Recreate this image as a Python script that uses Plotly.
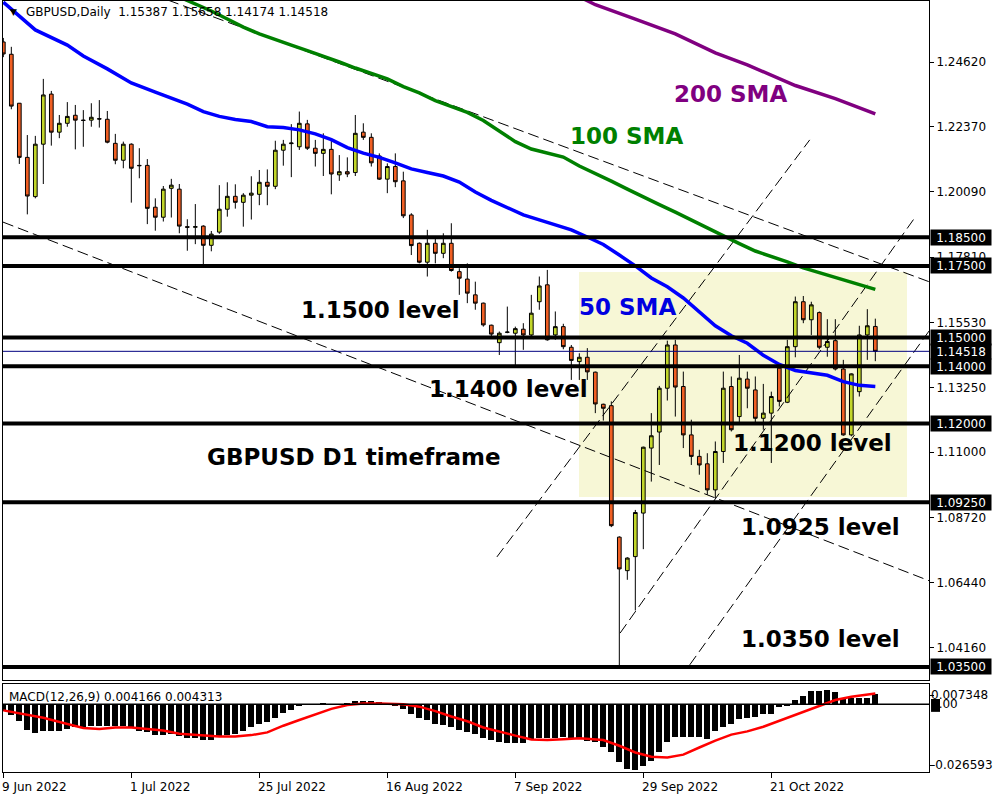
import plotly.graph_objects as go

# ---------------- data ----------------
bar_index = list(range(110))
opens = [1.2532,1.2489,1.2318,1.2129,1.1992,1.2175,1.2350,1.2217,1.2248,1.2276,
         1.2259,1.2259,1.2264,1.2262,1.2178,1.2119,1.2175,1.2101,1.2101,1.1955,
         1.1920,1.2021,1.2018,1.1887,1.1885,1.1889,1.1822,1.1868,1.1948,1.1993,
         1.1972,1.1997,1.2000,1.2042,1.2028,1.2154,1.2177,1.2166,1.2246,1.2161,
         1.2143,1.2157,1.2068,1.2079,1.2076,1.2217,1.2199,1.2134,1.2053,1.2097,
         1.2047,1.1928,1.1829,1.1763,1.1829,1.1794,1.1829,1.1730,1.1704,1.1649,
         1.1620,1.1543,1.1482,1.1518,1.1515,1.1529,1.1509,1.1625,1.1684,1.1509,
         1.1538,1.1466,1.1416,1.1431,1.1379,1.1267,1.1262,1.0803,1.0686,1.0735,
         1.0887,1.1114,1.1170,1.1323,1.1474,1.1329,1.1160,1.1085,1.1059,1.0968,
         1.1102,1.1329,1.1224,1.1355,1.1317,1.1218,1.1236,1.1393,1.1274,1.1468,
         1.1625,1.1562,1.1587,1.1466,1.1489,1.1390,1.1160,1.1311,1.1509,1.15387]
highs = [1.2546,1.2515,1.2319,1.2207,1.2204,1.2403,1.2361,1.2277,1.2322,1.2312,
         1.2294,1.2318,1.2329,1.2291,1.2211,1.2184,1.2178,1.2161,1.2123,1.1986,
         1.2029,1.2054,1.2036,1.1913,1.1966,1.1892,1.1872,1.2032,1.2042,1.2035,
         1.2004,1.2063,1.2085,1.2087,1.2187,1.2190,1.2245,1.2289,1.2260,1.2190,
         1.2213,1.2190,1.2137,1.2129,1.2277,1.2248,1.2213,1.2143,1.2108,1.2143,
         1.2079,1.1934,1.1832,1.1876,1.1852,1.1864,1.1899,1.1742,1.1759,1.1695,
         1.1622,1.1545,1.1521,1.1608,1.1538,1.1550,1.1649,1.1713,1.1736,1.1591,
         1.1548,1.1474,1.1445,1.1463,1.1381,1.1269,1.1277,1.0806,1.0733,1.0898,
         1.1119,1.1236,1.1331,1.1489,1.1492,1.1381,1.1213,1.1108,1.1096,1.1137,
         1.1381,1.1364,1.1439,1.1381,1.1364,1.1338,1.1311,1.1410,1.1492,1.1643,
         1.1645,1.1625,1.1591,1.1564,1.1564,1.1422,1.1375,1.1541,1.1599,1.15658]
lows = [1.2479,1.2297,1.2106,1.1930,1.1986,1.2036,1.2170,1.2196,1.2236,1.2157,
        1.2166,1.2236,1.2233,1.2178,1.2105,1.2091,1.1971,1.2056,1.1896,1.1873,
        1.1905,1.1919,1.1864,1.1803,1.1826,1.1756,1.1801,1.1862,1.1922,1.1950,
        1.1887,1.1912,1.1962,1.1962,1.2018,1.2100,1.2060,1.2155,1.2155,1.2097,
        1.2064,1.2000,1.2047,1.2060,1.2064,1.2190,1.2097,1.2050,1.2004,1.2025,
        1.1917,1.1788,1.1759,1.1713,1.1759,1.1777,1.1730,1.1649,1.1620,1.1597,
        1.1538,1.1503,1.1439,1.1515,1.1399,1.1457,1.1503,1.1597,1.1489,1.1492,
        1.1459,1.1352,1.1352,1.1352,1.1236,1.1210,1.0838,1.0350,1.0654,1.0547,
        1.0761,1.0997,1.1055,1.1280,1.1224,1.1114,1.1055,1.1021,1.0951,1.0939,
        1.1062,1.1172,1.1201,1.1253,1.1201,1.1178,1.1062,1.1259,1.1271,1.1431,
        1.1550,1.1509,1.1459,1.1433,1.1385,1.1157,1.1155,1.1294,1.1422,1.14174]
closes = [1.2490,1.2308,1.2129,1.1994,1.2175,1.2347,1.2217,1.2248,1.2272,1.2259,
          1.2258,1.2269,1.2263,1.2182,1.2119,1.2175,1.2091,1.2100,1.1951,1.1920,
          1.2018,1.2032,1.1889,1.1885,1.1887,1.1822,1.1861,1.1948,1.1993,1.1972,
          1.1997,1.2004,1.2042,1.2028,1.2154,1.2175,1.2179,1.2248,1.2161,1.2143,
          1.2157,1.2071,1.2079,1.2071,1.2213,1.2199,1.2110,1.2053,1.2097,1.2044,
          1.1925,1.1821,1.1763,1.1829,1.1794,1.1829,1.1734,1.1707,1.1655,1.1620,
          1.1544,1.1512,1.1515,1.1519,1.1531,1.1509,1.1585,1.1680,1.1492,1.1538,
          1.1468,1.1420,1.1431,1.1380,1.1268,1.1253,1.0843,1.0692,1.0730,1.0889,
          1.1117,1.1157,1.1323,1.1474,1.1327,1.1160,1.1085,1.1055,1.0968,1.1102,
          1.1323,1.1178,1.1358,1.1323,1.1218,1.1236,1.1294,1.1277,1.1468,1.1625,
          1.1562,1.1614,1.1466,1.1486,1.1390,1.1160,1.1373,1.1509,1.1541,1.14518]

sma50_x = [0,4,8,10,13,16,19,21,23,25,27,29,31,33,35,37,39,41,43,45,47,49,51,53,55,
           57,59,61,63,65,67,69,71,73,75,77,79,81,83,85,87,89,91,93,95,97,99,101,103,
           105,107,109]
sma50 = [1.2671,1.2574,1.2521,1.2483,1.2438,1.2389,1.2357,1.2336,1.2315,1.2289,1.2272,
         1.2261,1.2254,1.2236,1.2233,1.2225,1.2211,1.2191,1.2163,1.2144,1.2129,1.2110,
         1.2089,1.2076,1.2064,1.2043,1.2008,1.1979,1.1954,1.1928,1.1911,1.1893,1.1876,
         1.1851,1.1825,1.1788,1.1750,1.1708,1.1677,1.1638,1.1589,1.1541,1.1506,1.1480,
         1.1438,1.1406,1.1385,1.1377,1.1368,1.1346,1.1333,1.1329]
sma100_x = [22,24,26,28,30,32,34,36,38,40,42,44,46,48,50,52,54,56,58,60,62,64,66,68,70,
            72,74,76,78,80,82,84,86,88,90,92,94,96,98,100,102,104,106,108,109]
sma100 = [1.2689,1.2665,1.2640,1.2612,1.2584,1.2560,1.2539,1.2521,1.2502,1.2483,1.2462,
          1.2441,1.2422,1.2403,1.2376,1.2354,1.2327,1.2305,1.2286,1.2258,1.2221,1.2184,
          1.2158,1.2143,1.2130,1.2099,1.2074,1.2046,1.2018,1.1990,1.1964,1.1938,1.1910,
          1.1882,1.1854,1.1828,1.1802,1.1784,1.1764,1.1743,1.1727,1.1710,1.1692,1.1676,
          1.1668]
sma200_x = [72,74,79,84,89,93,99,104,109]
sma200 = [1.2690,1.2662,1.2612,1.2560,1.2494,1.2452,1.2380,1.2334,1.2281]

macd_hist = [-0.0029,-0.0044,-0.0069,-0.0103,-0.0115,-0.0107,-0.0107,-0.0107,-0.0100,-0.0094,
             -0.0094,-0.0090,-0.0090,-0.0087,-0.0087,-0.0090,-0.0094,-0.0107,-0.0114,-0.0125,
             -0.0125,-0.0120,-0.0127,-0.0137,-0.0137,-0.0145,-0.0145,-0.0134,-0.0125,-0.0120,
             -0.0107,-0.0091,-0.0080,-0.0073,-0.0056,-0.0037,-0.0024,-0.0007,-0.0005,-0.0003,
             0.0006,0.0002,0.0001,0.0004,0.0011,0.0012,0.0011,0.0009,0.0006,-0.0007,
             -0.0019,-0.0040,-0.0056,-0.0064,-0.0080,-0.0083,-0.0091,-0.0104,-0.0114,-0.0121,
             -0.0137,-0.0145,-0.0154,-0.0157,-0.0157,-0.0157,-0.0141,-0.0137,-0.0137,-0.0137,
             -0.0134,-0.0137,-0.0141,-0.0147,-0.0154,-0.0175,-0.0195,-0.0235,-0.0262,-0.0266,
             -0.0248,-0.0228,-0.0195,-0.0154,-0.0134,-0.0131,-0.0131,-0.0134,-0.0141,-0.0110,
             -0.0094,-0.0080,-0.0060,-0.0056,-0.0051,-0.0040,-0.0040,-0.0013,-0.0009,0.0018,
             0.0034,0.0055,0.0055,0.0059,0.0051,0.0025,0.0025,0.0025,0.0025,0.004166]
signal_x = [0,2,5,8,10,12,14,16,18,20,22,25,27,29,31,33,35,37,39,41,43,45,47,50,52,54,56,
            58,60,62,64,66,68,70,72,75,77,79,81,83,85,87,89,91,93,95,97,100,102,104,106,108,109]
signal = [-0.0025,-0.0037,-0.0055,-0.0080,-0.0096,-0.0100,-0.0094,-0.0094,-0.0100,-0.0106,
          -0.0119,-0.0128,-0.0131,-0.0131,-0.0125,-0.0114,-0.0087,-0.0064,-0.0040,-0.0019,
          -0.0003,0.0003,0.0003,0.0000,-0.0010,-0.0028,-0.0050,-0.0069,-0.0094,-0.0112,
          -0.0127,-0.0143,-0.0145,-0.0142,-0.0138,-0.0145,-0.0168,-0.0195,-0.0212,-0.0215,
          -0.0204,-0.0175,-0.0147,-0.0123,-0.0110,-0.0091,-0.0067,-0.0033,-0.0006,0.0017,
          0.0030,0.0038,0.004313]

# trend lines: (x0, y0, x1, y1) in bar index / price
trend_lines = [
    (20.6, 1.2678, 115.8, 1.1694),
    (-0.04, 1.1903, 115.8, 1.0650),
    (61.7, 1.0734, 100.8, 1.2190),
    (77.1, 1.0468, 114.0, 1.1921),
    (85.8, 1.0357, 115.8, 1.1526),
]
zone = (71.96, 112.96, 1.0943, 1.1729)
levels = [1.185, 1.175, 1.15, 1.14, 1.12, 1.0925, 1.035]
last_price = 1.14518
price_ticks = [1.2462, 1.2237, 1.2009, 1.1781, 1.1553, 1.1325, 1.1100, 1.0872, 1.0644, 1.0416]
date_ticks = [0, 16, 32, 48, 64, 80, 96]
date_labels = ["9 Jun 2022", "1 Jul 2022", "25 Jul 2022", "16 Aug 2022",
               "7 Sep 2022", "29 Sep 2022", "21 Oct 2022"]
level_texts = [
    ("1.1500 level", 36.9, 1.1596),
    ("1.1400 level", 53.0, 1.1320),
    ("GBPUSD D1 timeframe", 25.2, 1.1083),
    ("1.1200 level", 90.9, 1.1130),
    ("1.0925 level", 92.0, 1.0840),
    ("1.0350 level", 92.0, 1.0447),
]
sma_texts = [
    ("50 SMA", 71.7, 1.1608, "#0000E0"),
    ("100 SMA", 70.6, 1.2202, "#008000"),
    ("200 SMA", 83.6, 1.2350, "#800080"),
]
header = "GBPUSD,Daily  1.15387 1.15658 1.14174 1.14518"
macd_header = "MACD(12,26,9) 0.004166 0.004313"

BULL = "#C2D62A"
BEAR = "#F05F23"
FONT = "DejaVu Sans"
X_RANGE = [-0.04, 115.71]

# ---------------- figure ----------------
fig = go.Figure()

for (x0, y0, x1, y1) in trend_lines:
    fig.add_trace(go.Scatter(x=[x0, x1], y=[y0, y1], mode="lines",
                             line=dict(color="black", width=1, dash="11px,5px"),
                             hoverinfo="skip", showlegend=False, xaxis="x", yaxis="y"))

fig.add_trace(go.Candlestick(
    x=bar_index, open=opens, high=highs, low=lows, close=closes,
    increasing=dict(fillcolor=BULL, line=dict(color="black", width=1)),
    decreasing=dict(fillcolor=BEAR, line=dict(color="black", width=1)),
    whiskerwidth=0, showlegend=False, hoverinfo="skip", xaxis="x", yaxis="y"))

for xs, ys, col in [(sma50_x, sma50, "#0000FF"), (sma100_x, sma100, "#008000"),
                    (sma200_x, sma200, "#800080")]:
    fig.add_trace(go.Scatter(x=xs, y=ys, mode="lines", line=dict(color=col, width=3.5),
                             hoverinfo="skip", showlegend=False, xaxis="x", yaxis="y"))

fig.add_trace(go.Bar(x=bar_index, y=macd_hist, width=0.75, marker=dict(color="black", line=dict(width=0)),
                     showlegend=False, hoverinfo="skip", xaxis="x2", yaxis="y2"))
fig.add_trace(go.Scatter(x=signal_x, y=signal, mode="lines", line=dict(color="#FF0000", width=2.5),
                         showlegend=False, hoverinfo="skip", xaxis="x2", yaxis="y2"))

shapes = [dict(type="rect", xref="x", yref="y", x0=zone[0], x1=zone[1], y0=zone[2], y1=zone[3],
               fillcolor="#F7F7D6", line=dict(width=0), layer="below")]
shapes.append(dict(type="line", xref="x domain", yref="y", x0=0, x1=1, y0=last_price, y1=last_price,
                   line=dict(color="#000080", width=1)))
for lv in levels:
    shapes.append(dict(type="line", xref="x domain", yref="y", x0=0, x1=1, y0=lv, y1=lv,
                       line=dict(color="black", width=4)))
shapes.append(dict(type="line", xref="x2 domain", yref="y2", x0=0, x1=1, y0=0, y1=0,
                   line=dict(color="black", width=1.5)))
shapes.append(dict(type="rect", xref="paper", yref="paper", x0=1.0022, x1=1.0119, y0=0.078, y1=0.0947,
                   fillcolor="black", line=dict(width=0), layer="above"))

ann = []
ann.append(dict(text="▼", xref="paper", yref="paper", x=0.0055, y=0.9855, xanchor="left", yanchor="middle",
                showarrow=False, font=dict(family=FONT, size=9, color="black")))
ann.append(dict(text=header, xref="paper", yref="paper", x=0.0225, y=0.9855, xanchor="left",
                yanchor="middle", showarrow=False, font=dict(family=FONT, size=12, color="black")))
ann.append(dict(text=macd_header, xref="paper", yref="paper", x=0.004, y=0.0977, xanchor="left",
                yanchor="middle", showarrow=False, font=dict(family=FONT, size=12, color="black")))
for txt, xi, yv in level_texts:
    ann.append(dict(text="<b>%s</b>" % txt, xref="x", yref="y", x=xi, y=yv, xanchor="left",
                    yanchor="middle", showarrow=False, font=dict(family=FONT, size=23, color="black")))
for txt, xi, yv, col in sma_texts:
    ann.append(dict(text="<b>%s</b>" % txt, xref="x", yref="y", x=xi, y=yv, xanchor="left",
                    yanchor="middle", showarrow=False, font=dict(family=FONT, size=23, color=col)))
# price labels with black boxes (last price first so level boxes overlap it)
for lv in [last_price] + levels:
    ann.append(dict(text="%.5f" % lv, xref="paper", yref="y", x=1, y=lv, xanchor="left", yanchor="middle",
                    xshift=1, showarrow=False, bgcolor="black", width=58, height=13, borderpad=1,
                    font=dict(family=FONT, size=12, color="white")))
for d, lab in zip(date_ticks, date_labels):
    ann.append(dict(text=lab, xref="x2", yref="paper", x=d, y=0, xanchor="left", yanchor="top",
                    xshift=-3, yshift=-6, showarrow=False, font=dict(family=FONT, size=12, color="black")))
ann.append(dict(text="0.007348", xref="paper", yref="y2", x=1, y=0.007348, xanchor="left", yanchor="middle",
                yshift=-9, xshift=0, showarrow=False, font=dict(family=FONT, size=12, color="black")))
ann.append(dict(text="0.00", xref="paper", yref="y2", x=1, y=0, xanchor="left", yanchor="middle",
                xshift=0, showarrow=False, font=dict(family=FONT, size=12, color="black")))
ann.append(dict(text="-0.026593", xref="paper", yref="y2", x=1, y=-0.026593, xanchor="left", yanchor="middle",
                yshift=5, xshift=0, showarrow=False, font=dict(family=FONT, size=12, color="black")))

axis_common = dict(showgrid=False, zeroline=False, showline=True, mirror=True, linecolor="black",
                   linewidth=1)
fig.update_layout(
    width=1000, height=800,
    margin=dict(l=3, r=71, t=1, b=28),
    paper_bgcolor="white", plot_bgcolor="white",
    font=dict(family=FONT, size=12, color="black"),
    showlegend=False, boxgap=0.34, bargap=0,
    xaxis=dict(domain=[0, 1], range=X_RANGE, anchor="y", showticklabels=False, ticks="",
               rangeslider=dict(visible=False), **axis_common),
    yaxis=dict(domain=[0.11933, 1], range=[1.03042, 1.26750], side="right", anchor="x",
               tickvals=price_ticks, ticktext=["%.5f" % v for v in price_ticks],
               ticks="outside", ticklen=4, tickcolor="black",
               tickfont=dict(family=FONT, size=12, color="black"), **axis_common),
    xaxis2=dict(domain=[0, 1], range=X_RANGE, anchor="y2", matches="x", tickvals=date_ticks,
                showticklabels=False, ticks="outside", ticklen=5, tickcolor="black",
                rangeslider=dict(visible=False), **axis_common),
    yaxis2=dict(domain=[0, 0.11414], range=[-0.027401, 0.008156], side="right", anchor="x2",
                tickvals=[0.0037, -0.0246], showticklabels=False, ticks="outside", ticklen=4,
                tickcolor="black", **axis_common),
    shapes=shapes, annotations=ann,
)

fig.write_html("out.html", config={"displayModeBar": False, "staticPlot": True},
               post_script="document.body.style.margin='0';document.body.style.overflow='hidden';")
